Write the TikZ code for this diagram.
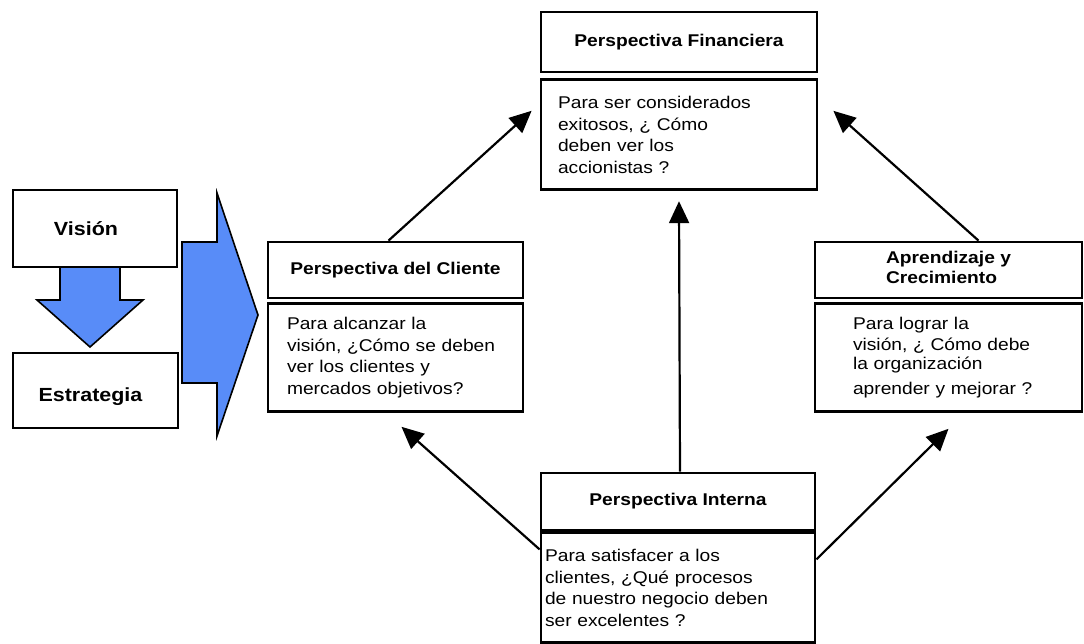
\documentclass[tikz,border=0pt]{standalone}
\usepackage{fontspec}
\setmainfont{Liberation Sans}[FakeStretch=1.13]
\usepackage{tikz}
\usetikzlibrary{arrows.meta}
\usetikzlibrary{calc}
\usetikzlibrary{positioning}
\definecolor{azulflecha}{RGB}{88,140,248}

\tikzset{
    titlebox/.style={draw, line width=2.8pt, font=\fontsize{17}{20}\selectfont\bfseries, minimum height=56pt, inner sep=0pt, align=center},
    bodybox/.style={draw, line width=2.8pt, font=\fontsize{17}{21.5}\selectfont, align=left, inner ysep=0pt, anchor=north},
    flecha/.style={line width=2.2pt, -{Triangle[length=22pt,width=20pt]}},
    bloque/.style={draw, line width=1.6pt, fill=azulflecha, line join=miter}
}

\begin{document}
\begin{tikzpicture}[x=1pt, y=-1pt]
    \useasboundingbox (0,0) rectangle (1084,644);

    % vision y estrategia
    \node[titlebox, minimum width=164pt, minimum height=77pt] (vision) at (95,228.5) {};
    \node[font=\fontsize{19}{22}\selectfont\bfseries] (vistxt) at ([xshift=-9pt]vision.center) {Visi\'on};
    \node[titlebox, minimum width=165pt, minimum height=75pt] (estrategia) at (95.5,390.5) {};
    \node[font=\fontsize{19}{22}\selectfont\bfseries] (esttxt) at ([xshift=-5pt,yshift=-6pt]estrategia.center) {Estrategia};
    \draw[bloque] (60,267) -- (120,267) -- (120,300) -- (143,300) -- (90,347) -- (37,300) -- (60,300) -- cycle;
    \draw[bloque] (182,242) -- (217,242) -- (217,193) -- (258,315) -- (217,436) -- (217,383) -- (182,383) -- cycle;

    % perspectiva financiera
    \node[titlebox, minimum width=276pt, minimum height=60pt] (fintit) at (679,42) {Perspectiva Financiera};
    \node[bodybox, text width=242pt, inner xsep=17pt, minimum height=110pt] (finbody) at ([yshift=-5pt]fintit.south) {Para ser considerados\\ exitosos, ¿ Cómo\\ deben ver los\\ accionistas ?};

    % perspectiva del cliente
    \node[titlebox, minimum width=255pt] (clitit) at (395.5,270) {Perspectiva del Cliente};
    \node[bodybox, text width=217pt, inner xsep=19pt, minimum height=108pt] (clibody) at ([yshift=-2.6pt]clitit.south) {Para alcanzar la\\ visión, ¿Cómo se deben\\ ver los clientes y\\ mercados objetivos?};

    % aprendizaje y crecimiento
    \node[titlebox, minimum width=267pt] (aprtit) at (948.5,270) {\begin{tabular}{@{}l@{}}Aprendizaje y\\ Crecimiento\end{tabular}};
    \node[bodybox, text width=191pt, inner xsep=38pt, minimum height=108pt] (aprbody) at ([yshift=-2.6pt]aprtit.south) {Para lograr la\\ visión, ¿ Cómo debe\\[-3pt] la organización\\[4pt] aprender y mejorar ?};

    % perspectiva interna
    \node[titlebox, minimum width=274pt, minimum height=57pt] (inttit) at (678,501.5) {Perspectiva Interna};
    \node[bodybox, text width=266pt, inner xsep=4pt, minimum height=110pt] (intbody) at (inttit.south) {Para satisfacer a los\\ clientes, ¿Qué procesos\\ de nuestro negocio deben\\ ser excelentes ?};

    % flechas
    \draw[flecha] ([xshift=-7pt]clitit.north) -- ([xshift=-8pt,yshift=24pt]finbody.west);
    \draw[flecha] ([xshift=30pt]aprtit.north) -- ([xshift=15pt,yshift=24pt]finbody.east);
    \draw[flecha] ([xshift=2pt]inttit.north) -- ([yshift=-10pt]finbody.south);
    \draw[flecha] ([yshift=-18pt]intbody.north west) -- ([xshift=6pt,yshift=-14pt]clibody.south);
    \draw[flecha] ([yshift=-28pt]intbody.north east) -- ([xshift=0pt,yshift=-16pt]aprbody.south);
\end{tikzpicture}
\end{document}
